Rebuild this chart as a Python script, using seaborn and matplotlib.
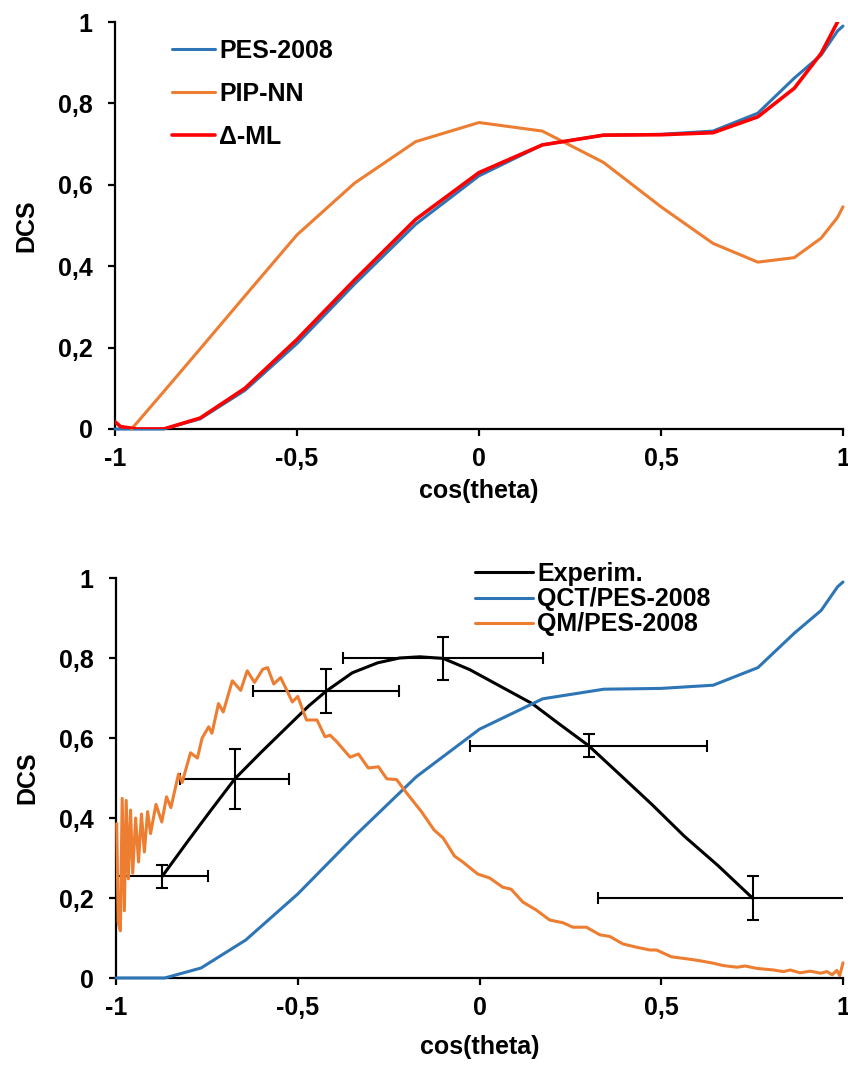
import numpy as np
import pandas as pd
import matplotlib
matplotlib.use("Agg")
import matplotlib.pyplot as plt
from matplotlib.ticker import FuncFormatter, FixedLocator
import seaborn as sns

# ---------------- data: top panel ----------------
cos_grid = [-1.0, -0.985, -0.94, -0.866, -0.766, -0.643, -0.5, -0.342, -0.174, 0.0,
            0.174, 0.342, 0.5, 0.643, 0.766, 0.866, 0.94, 0.985, 1.0]
pes2008 = [0.0, 0.0, 0.0, 0.0, 0.025, 0.095, 0.21, 0.356, 0.503, 0.622,
           0.698, 0.722, 0.724, 0.732, 0.776, 0.862, 0.919, 0.978, 0.99]
delta_ml = [0.018, 0.006, 0.0, 0.0, 0.027, 0.100, 0.22, 0.366, 0.515, 0.630,
            0.698, 0.722, 0.723, 0.728, 0.767, 0.837, 0.923, 1.0, 1.03]
pipnn_x = [-0.955, -0.94, -0.866, -0.766, -0.643, -0.5, -0.342, -0.174, 0.0,
           0.174, 0.342, 0.5, 0.643, 0.766, 0.866, 0.94, 0.985, 1.0]
pipnn = [0.0, 0.015, 0.092, 0.197, 0.327, 0.477, 0.604, 0.706, 0.753,
         0.732, 0.655, 0.546, 0.456, 0.410, 0.421, 0.469, 0.520, 0.546]

# ---------------- data: bottom panel ----------------
exp_x = [-0.873, -0.800, -0.740, -0.673, -0.600, -0.530, -0.470, -0.422, -0.350, -0.280,
         -0.220, -0.164, -0.100, -0.027, 0.064, 0.145, 0.218, 0.300, 0.382, 0.473,
         0.564, 0.655, 0.752]
exp_y = [0.254, 0.345, 0.418, 0.498, 0.565, 0.627, 0.680, 0.717, 0.763, 0.788,
         0.800, 0.803, 0.799, 0.771, 0.726, 0.686, 0.636, 0.581, 0.512, 0.435,
         0.354, 0.282, 0.199]
pts_x = [-0.873, -0.673, -0.422, -0.100, 0.300, 0.752]
pts_y = [0.254, 0.498, 0.717, 0.799, 0.581, 0.199]
pts_xerr = [0.125, 0.150, 0.200, 0.275, 0.325, 0.425]
pts_yerr = [0.028, 0.075, 0.055, 0.054, 0.028, 0.055]

qm_x = [-0.998, -0.994, -0.988, -0.983, -0.977, -0.972, -0.966, -0.960, -0.954, -0.946,
        -0.938, -0.930, -0.922, -0.913, -0.905, -0.890, -0.874, -0.861, -0.849, -0.828,
        -0.818, -0.795, -0.776, -0.763, -0.745, -0.736, -0.718, -0.705, -0.680, -0.657,
        -0.639, -0.619, -0.596, -0.583, -0.566, -0.547, -0.530, -0.515, -0.500, -0.476,
        -0.447, -0.425, -0.411, -0.393, -0.356, -0.333, -0.306, -0.278, -0.255, -0.228,
        -0.200, -0.159, -0.125, -0.100, -0.069, -0.046, -0.005, 0.028, 0.064, 0.087,
        0.119, 0.156, 0.193, 0.230, 0.257, 0.294, 0.331, 0.358, 0.395, 0.432,
        0.469, 0.487, 0.528, 0.570, 0.607, 0.643, 0.671, 0.708, 0.731, 0.763,
        0.809, 0.836, 0.855, 0.882, 0.910, 0.938, 0.956, 0.970, 0.983, 0.991, 1.000]
qm_y = [0.386, 0.139, 0.118, 0.449, 0.168, 0.444, 0.248, 0.420, 0.262, 0.400,
        0.290, 0.410, 0.315, 0.416, 0.361, 0.434, 0.390, 0.453, 0.426, 0.510,
        0.489, 0.563, 0.550, 0.600, 0.628, 0.612, 0.686, 0.665, 0.743, 0.719,
        0.768, 0.739, 0.772, 0.776, 0.735, 0.751, 0.719, 0.690, 0.704, 0.645,
        0.645, 0.603, 0.607, 0.591, 0.552, 0.560, 0.525, 0.528, 0.498, 0.496,
        0.462, 0.415, 0.370, 0.350, 0.305, 0.290, 0.260, 0.250, 0.227, 0.222,
        0.190, 0.170, 0.145, 0.138, 0.127, 0.127, 0.108, 0.104, 0.085, 0.077,
        0.070, 0.070, 0.053, 0.048, 0.043, 0.037, 0.031, 0.027, 0.030, 0.024,
        0.020, 0.016, 0.020, 0.013, 0.017, 0.012, 0.016, 0.008, 0.019, 0.006, 0.038]

x_ticks = [-1, -0.5, 0, 0.5, 1]
y_ticks = [0, 0.2, 0.4, 0.6, 0.8, 1]

BLUE = "#2E75B6"
ORANGE = "#ED7D31"
RED = "#FF0000"
FS = 18

sns.set_theme(style="white")
plt.rcParams["font.family"] = ["Liberation Sans", "DejaVu Sans"]
plt.rcParams["font.weight"] = "bold"
plt.rcParams["text.color"] = "black"
plt.rcParams["legend.labelcolor"] = "black"

fig = plt.figure(figsize=(8.48, 10.65), dpi=100)
ax1 = fig.add_axes([115/848, 1-429/1065, 728/848, 407/1065])
ax2 = fig.add_axes([116/848, 1-978/1065, 727/848, 400/1065])

comma = FuncFormatter(lambda v, p: ("%g" % v).replace(".", ","))

def style(ax, xlabelpad):
    ax.set_xlim(-1, 1)
    ax.set_ylim(0, 1)
    ax.xaxis.set_major_locator(FixedLocator(x_ticks))
    ax.yaxis.set_major_locator(FixedLocator(y_ticks))
    ax.xaxis.set_major_formatter(comma)
    ax.yaxis.set_major_formatter(comma)
    for s in ["top", "right"]:
        ax.spines[s].set_visible(False)
    for s in ["left", "bottom"]:
        ax.spines[s].set_color("black")
        ax.spines[s].set_linewidth(1.6)
    ax.tick_params(axis="both", which="major", direction="out", length=5, width=1.6,
                   color="black", labelsize=FS, labelcolor="black")
    ax.tick_params(axis="y", pad=11, left=True)
    ax.tick_params(axis="x", pad=8, bottom=True)
    for lab in ax.get_xticklabels() + ax.get_yticklabels():
        lab.set_fontweight("bold")
    ax.set_xlabel("cos(theta)", fontsize=FS, fontweight="bold", color="black",
                  labelpad=xlabelpad)
    ax.set_ylabel("DCS", fontsize=FS, fontweight="bold", color="black", labelpad=14)
    ax.grid(False)

# ---- top panel ----
sns.lineplot(x=cos_grid, y=pes2008, ax=ax1, color=BLUE, lw=2.2, label="PES-2008",
             estimator=None, sort=False, clip_on=False, zorder=3)
sns.lineplot(x=pipnn_x, y=pipnn, ax=ax1, color=ORANGE, lw=2.2, label="PIP-NN",
             estimator=None, sort=False, clip_on=False, zorder=3)
sns.lineplot(x=cos_grid, y=delta_ml, ax=ax1, color=RED, lw=2.6, label="Δ-ML",
             estimator=None, sort=False, clip_on=True, zorder=4)
style(ax1, 6)
ax1.legend(loc="upper left", bbox_to_anchor=(172/848, 1-39/1065),
           bbox_transform=fig.transFigure, frameon=False, labelcolor="black",
           prop={"weight": "bold", "size": FS}, handlelength=1.7, handletextpad=0.2,
           labelspacing=0.75, borderpad=0, borderaxespad=0)

# ---- bottom panel ----
sns.lineplot(x=exp_x, y=exp_y, ax=ax2, color="black", lw=2.2, label="Experim.",
             estimator=None, sort=False, zorder=3)
ax2.errorbar(pts_x, pts_y, xerr=pts_xerr, yerr=pts_yerr, fmt="none", ecolor="black",
             elinewidth=1.5, capsize=4, capthick=1.5, zorder=3)
sns.lineplot(x=cos_grid, y=pes2008, ax=ax2, color=BLUE, lw=2.2, label="QCT/PES-2008",
             estimator=None, sort=False, clip_on=False, zorder=4)
sns.lineplot(x=qm_x, y=qm_y, ax=ax2, color=ORANGE, lw=2.2, label="QM/PES-2008",
             estimator=None, sort=False, clip_on=False, zorder=5)
style(ax2, 11)
ax2.legend(loc="upper left", bbox_to_anchor=(475/848, 1-562/1065),
           bbox_transform=fig.transFigure, frameon=False, labelcolor="black",
           prop={"weight": "bold", "size": FS}, handlelength=2.3, handletextpad=0.2,
           labelspacing=0.05, borderpad=0, borderaxespad=0)

fig.savefig("out.png", dpi=100)
